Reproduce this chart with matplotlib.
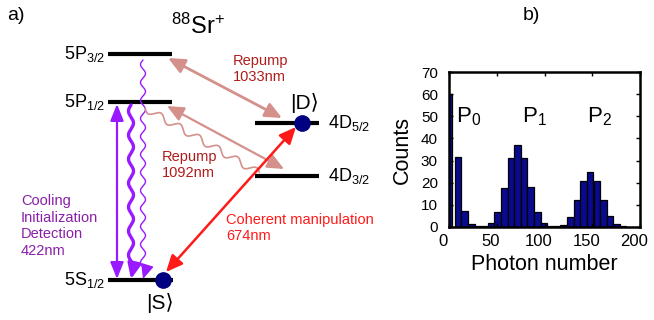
import numpy as np
import matplotlib
matplotlib.use("Agg")
import matplotlib.pyplot as plt
from matplotlib.patches import FancyArrowPatch
from matplotlib.transforms import ScaledTranslation

plt.rcParams['font.family'] = ['Liberation Sans', 'DejaVu Sans']
plt.rcParams['mathtext.fontset'] = 'custom'
plt.rcParams['mathtext.rm'] = 'Liberation Sans'
plt.rcParams['mathtext.it'] = 'Liberation Sans:italic'

# ---------------- level diagram (pixel-like layout coords) ----------------
level_names = [r'5P$_{3/2}$', r'5P$_{1/2}$', r'4D$_{5/2}$', r'4D$_{3/2}$', r'5S$_{1/2}$']
level_x0 = [108, 108, 255, 255, 108]
level_x1 = [172, 172, 319, 319, 173]
level_y = [54, 102, 123, 176, 280]
level_label_side = ['left', 'left', 'right', 'right', 'left']

# transitions: (start, end)
repump1033 = [(168, 58), (282, 118)]
repump1092 = [(167, 106), (284, 169)]
coherent674 = [(296, 127), (166, 272)]
cooling_straight = [(117, 104), (117, 279)]
cooling_wavy = [(131, 105), (131, 279)]
spont_wavy = [(143, 60), (143, 279)]
decay_wavy = [(145, 108), (259, 173)]

state_dots = [(163, 280), (302, 123)]

# ---------------- histogram data ----------------
photon_bins = [0.0, 9.6, 16.5, 23.4, 30.3, 37.2, 44.1, 51.0, 58.0, 64.9, 71.8, 78.7,
               85.6, 92.5, 99.4, 106.4, 113.3, 120.2, 127.1, 134.0, 140.9, 147.8,
               154.8, 161.7, 168.6, 175.5, 182.4]
counts = [60, 31.5, 7.3, 1.4, 0.4, 0.4, 1.8, 7, 17.5, 31, 37, 31,
          18, 7, 2, 0.4, 0.4, 1, 4.5, 12, 20.7, 25, 20.7, 12, 5, 1.3, 0.4]
bin_width = 6.92

W, H = 654, 320
fig = plt.figure(figsize=(W / 100, H / 100), dpi=100)

ax0 = fig.add_axes([0, 0, 1, 1])
ax0.set_xlim(0, W)
ax0.set_ylim(H, 0)
ax0.axis('off')

purple = '#9a1aff'
purple_text = '#8b1fa9'
pink = '#d4908b'
darkred = '#b01c1c'
red = '#ff1a1a'
navy = '#000080'

for name, x0, x1, y, side in zip(level_names, level_x0, level_x1, level_y, level_label_side):
    ax0.plot([x0, x1], [y, y], color='black', lw=3, solid_capstyle='butt', zorder=3)
    if side == 'left':
        ax0.text(x0 - 3, y, name, ha='right', va='center', fontsize=13)
    else:
        ax0.text(x1 + 9, y, name, ha='left', va='center', fontsize=13)


def arrow(p0, p1, color, lw, style, hl=0.9, hw=0.4, z=4):
    a = FancyArrowPatch(p0, p1, arrowstyle=f'{style},head_length={hl},head_width={hw}',
                        mutation_scale=10, color=color, lw=lw, shrinkA=0, shrinkB=0,
                        zorder=z)
    ax0.add_patch(a)


def wavy(p0, p1, amp, period, color, lw, head=None, z=4):
    p0 = np.array(p0, float)
    p1 = np.array(p1, float)
    d = p1 - p0
    L = np.hypot(*d)
    u = d / L
    n = np.array([-u[1], u[0]])
    hl = 0 if head is None else head
    s = np.linspace(0, L - hl, 400)
    off = amp * np.sin(2 * np.pi * s / period)
    pts = p0[None, :] + s[:, None] * u[None, :] + off[:, None] * n[None, :]
    ax0.plot(pts[:, 0], pts[:, 1], color=color, lw=lw, zorder=z, solid_capstyle='round')
    if head is not None:
        arrow(tuple(pts[-1]), tuple(p1), color, lw, '-|>', hl=0.9, hw=0.4, z=z)


arrow(*repump1033, pink, 2.0, '<|-|>', hl=1.0, hw=0.45)
arrow(*repump1092, pink, 1.6, '<|-|>', hl=1.0, hw=0.45)
arrow(*coherent674, red, 1.8, '<|-|>', hl=1.0, hw=0.45, z=5)
arrow(*cooling_straight, purple, 1.6, '<|-|>', hl=1.0, hw=0.4)
wavy(*cooling_wavy, 2.5, 24, purple, 2.4, head=10)
wavy(*spont_wavy, 2.5, 18, purple, 1.0, head=8)
wavy(*decay_wavy, 3.5, 22, pink, 1.2)

for (x, y) in state_dots:
    ax0.plot(x, y, 'o', ms=11, color=navy, zorder=6)

ax0.text(7, 15, 'a)', fontsize=14, ha='left', va='center')
ax0.text(198, 26, r'$^{88}\mathrm{Sr}^{+}$', fontsize=17, ha='center', va='center')
ax0.text(305, 103, '|D⟩', fontsize=15, ha='center', va='center')
ax0.text(160, 303, '|S⟩', fontsize=15, ha='center', va='center')

ax0.text(233, 69, 'Repump\n1033nm', color=darkred, fontsize=10.5, ha='left', va='center',
         linespacing=1.25)
ax0.text(162, 165, 'Repump\n1092nm', color=darkred, fontsize=10.5, ha='left', va='center',
         linespacing=1.25)
ax0.text(226, 228, 'Coherent manipulation\n674nm', color=red, fontsize=10.5, ha='left',
         va='center', linespacing=1.25)
ax0.text(21, 226, 'Cooling\nInitialization\nDetection\n422nm', color=purple_text,
         fontsize=10.5, ha='left', va='center', linespacing=1.25)

ax0.text(523, 15, 'b)', fontsize=14, ha='left', va='center')

# ---------------- histogram ----------------
ax = fig.add_axes([449 / W, 1 - 227 / H, 191 / W, 155 / H])
ax.bar(photon_bins, counts, width=bin_width, color='#0a0a8c', edgecolor='black', lw=0.9)
ax.set_xlim(0, 200)
ax.set_ylim(0, 70)
ax.set_xticks([0, 50, 100, 150, 200])
ax.set_yticks(range(0, 71, 10))
ax.tick_params(direction='in', length=3, width=1, top=True, right=True)
ax.tick_params(axis='x', labelsize=12, pad=5)
ax.tick_params(axis='y', labelsize=11, pad=8)
for lab in ax.get_xticklabels():
    lab.set_transform(lab.get_transform() + ScaledTranslation(-0.06, 0, fig.dpi_scale_trans))
for s in ax.spines.values():
    s.set_linewidth(1.8)
ax.set_xlabel('Photon number', fontsize=15.5, labelpad=4)
ax.set_ylabel('Counts', fontsize=15.5, labelpad=6)

peak_labels = [r'P$_0$', r'P$_1$', r'P$_2$']
peak_label_x = [7, 76, 145]
for t, x in zip(peak_labels, peak_label_x):
    ax.text(x, 50, t, fontsize=16, ha='left', va='center')

fig.savefig('out.png', dpi=100)
